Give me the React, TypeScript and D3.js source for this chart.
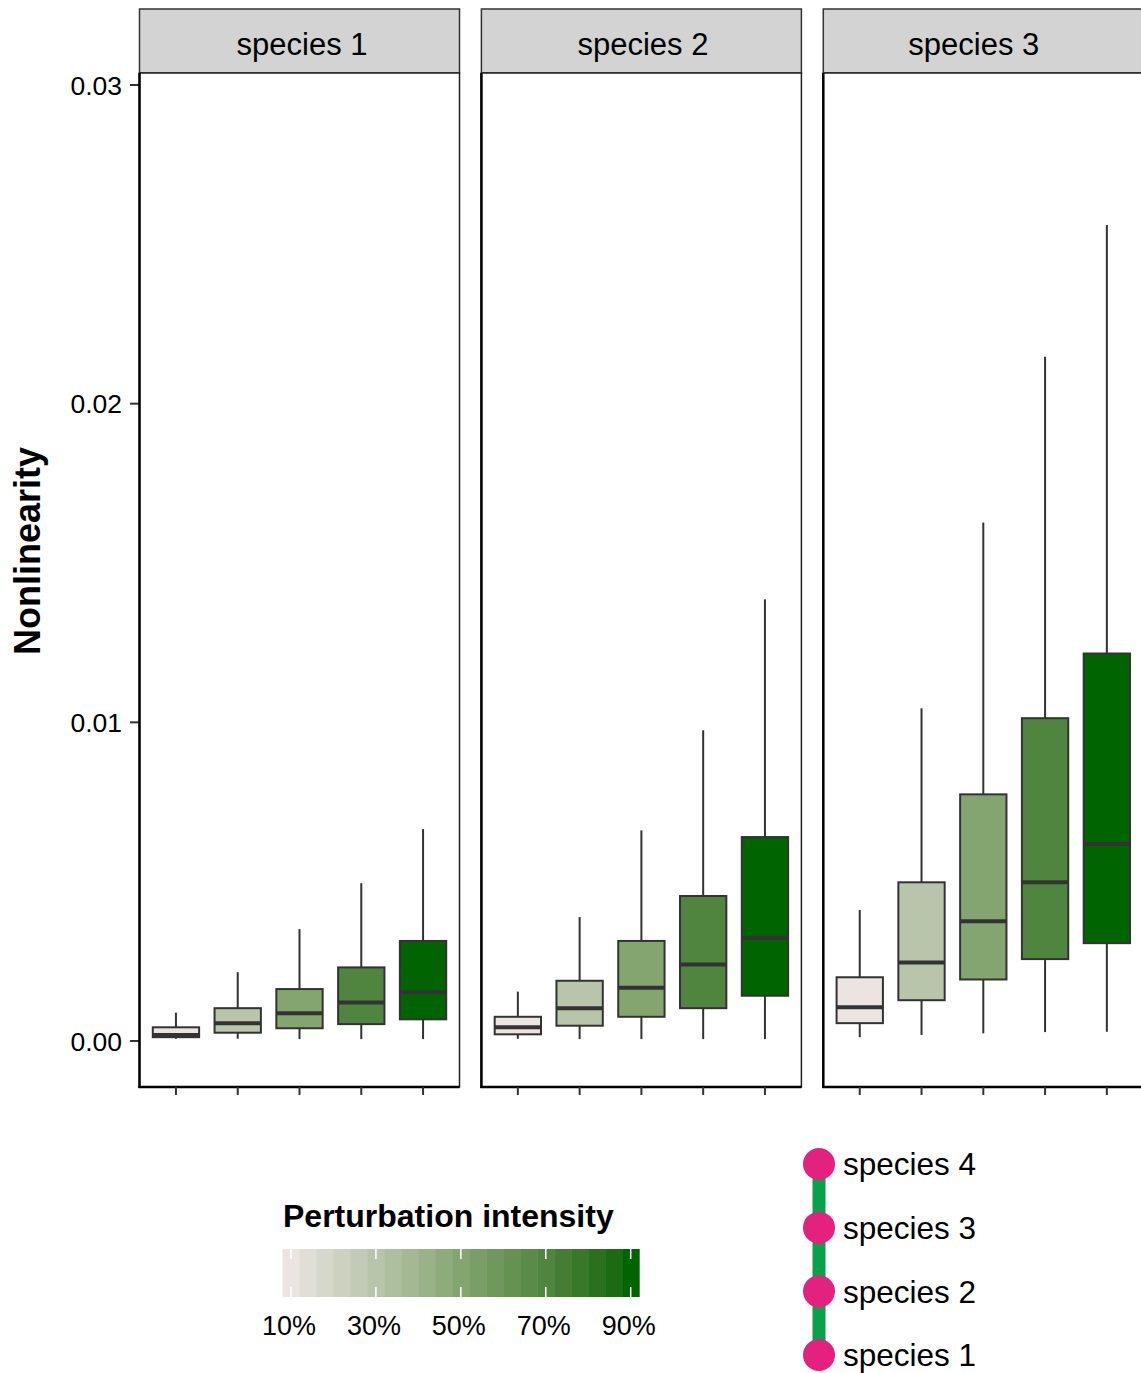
import React from "react";
import * as d3 from "d3";

const species = ["species 1", "species 2", "species 3"];
const levels = ["10%", "30%", "50%", "70%", "90%"];
const levelColors = ["#EBE4E1", "#B8C5AA", "#84A570", "#4F853F", "#006400"];

// values in units of 0.001: [min, q1, median, q3, max]
const sp1 = [
  [0.07, 0.12, 0.19, 0.43, 0.89],
  [0.07, 0.26, 0.56, 1.03, 2.16],
  [0.06, 0.4, 0.87, 1.63, 3.51],
  [0.06, 0.53, 1.21, 2.31, 4.95],
  [0.06, 0.68, 1.53, 3.14, 6.65],
];
const sp2 = [
  [0.07, 0.21, 0.43, 0.76, 1.55],
  [0.06, 0.48, 1.03, 1.89, 3.89],
  [0.06, 0.76, 1.67, 3.14, 6.61],
  [0.06, 1.03, 2.4, 4.55, 9.75],
  [0.06, 1.42, 3.23, 6.4, 13.86],
];
const sp3 = [
  [0.12, 0.56, 1.06, 2.0, 4.11],
  [0.19, 1.28, 2.46, 4.98, 10.44],
  [0.24, 1.93, 3.76, 7.74, 16.27],
  [0.28, 2.57, 4.98, 10.13, 21.47],
  [0.29, 3.07, 6.18, 12.16, 25.61],
];
const seriesData = [sp1, sp2, sp3];

const yTicks = [0, 0.01, 0.02, 0.03];
const yTickLabels = ["0.00", "0.01", "0.02", "0.03"];

const barTickPcts = [10, 30, 50, 70, 90];
const barTickLabels = ["10%", "30%", "50%", "70%", "90%"];
const barBins = d3.range(10, 90.001, 4);

const networkNodes = ["species 4", "species 3", "species 2", "species 1"];

const FONT = "'Liberation Sans', Arial, Helvetica, sans-serif";

export default function App() {
  const W = 1141;
  const H = 1373;
  const panelLeft0 = 139.5;
  const panelW = 320;
  const panelStep = 341.9;
  const stripTop = 9;
  const stripBottom = 73;
  const panelBottom = 1087;
  const stripTextShift = [2.5, 1.5, -9.5];

  const y = d3.scaleLinear().domain([0, 0.03]).range([1041, 85]);
  const x = d3.scalePoint<string>().domain(levels).range([0, panelW]).padding(0.59);
  const boxW = x.step() * 0.75;

  const cs = d3.scaleLinear<string>()
    .domain([10, 30, 50, 70, 90])
    .range(levelColors)
    .interpolate(d3.interpolateLab)
    .clamp(true);

  const barX = d3.scaleLinear().domain([10, 90]).range([291, 630.7]);
  const binW = barX(14) - barX(10);
  const barTop = 1249;
  const barBot = 1297;

  const netY = d3.scalePoint<string>().domain(networkNodes).range([1164, 1355]);

  return (
    <svg width={W} height={H} style={{ position: "absolute", left: 0, top: 0, background: "#fff" }} fontFamily={FONT}>
      <rect x={0} y={0} width={W} height={H} fill="#fff" />
      {/* y axis title */}
      <text transform={`translate(40,551) rotate(-90)`} textAnchor="middle" fontWeight="bold" fontSize={36}>Nonlinearity</text>
      {/* y ticks */}
      {yTicks.map((t, i) => (
        <g key={i}>
          <line x1={130} x2={140} y1={y(t)} y2={y(t)} stroke="#333" strokeWidth={2} />
          <text x={122} y={y(t)} dy="0.36em" textAnchor="end" fontSize={26.5}>{yTickLabels[i]}</text>
        </g>
      ))}
      {species.map((sp, p) => {
        const px = panelLeft0 + p * panelStep;
        const data = seriesData[p];
        return (
          <g key={sp} transform={`translate(${px},0)`}>
            <rect x={0} y={stripTop} width={panelW} height={stripBottom - stripTop} fill="#D3D3D3" stroke="#333" strokeWidth={1.5} />
            <text x={panelW / 2 + stripTextShift[p]} y={55} textAnchor="middle" fontSize={31}>{sp}</text>
            <rect x={0} y={stripBottom} width={panelW} height={panelBottom - stripBottom} fill="#fff" stroke="#222" strokeWidth={1.5} />
            <line x1={0} x2={0} y1={stripBottom} y2={panelBottom + 1} stroke="#000" strokeWidth={2.5} />
            <line x1={-1} x2={panelW} y1={panelBottom} y2={panelBottom} stroke="#000" strokeWidth={2.5} />
            {levels.map((lv, i) => {
              const cx = x(lv)!;
              const [mn, q1, md, q3, mx] = data[i].map((v) => v / 1000);
              return (
                <g key={lv}>
                  <line x1={cx} x2={cx} y1={panelBottom} y2={panelBottom + 8} stroke="#333" strokeWidth={2} />
                  <line x1={cx} x2={cx} y1={y(mx)} y2={y(q3)} stroke="#333" strokeWidth={2} />
                  <line x1={cx} x2={cx} y1={y(q1)} y2={y(mn)} stroke="#333" strokeWidth={2} />
                  <rect x={cx - boxW / 2} y={y(q3)} width={boxW} height={y(q1) - y(q3)} fill={levelColors[i]} stroke="#333" strokeWidth={2} />
                  <line x1={cx - boxW / 2} x2={cx + boxW / 2} y1={y(md)} y2={y(md)} stroke="#333" strokeWidth={4} />
                </g>
              );
            })}
          </g>
        );
      })}
      {/* colorbar legend */}
      <text x={283} y={1227} fontWeight="bold" fontSize={32}>Perturbation intensity</text>
      {barBins.map((b) => (
        <rect key={b} x={barX(b) - binW / 2} y={barTop} width={binW + 0.5} height={barBot - barTop} fill={cs(b)} />
      ))}
      {barTickPcts.map((t, i) => (
        <g key={t}>
          <line x1={barX(t)} x2={barX(t)} y1={barTop} y2={barTop + 10} stroke="#fff" strokeWidth={1.5} />
          <line x1={barX(t)} x2={barX(t)} y1={barBot - 10} y2={barBot} stroke="#fff" strokeWidth={1.5} />
          <text x={barX(t) - 2} y={1325} dy="0.36em" textAnchor="middle" fontSize={27}>{barTickLabels[i]}</text>
        </g>
      ))}
      {/* network legend */}
      <line x1={819} x2={819} y1={netY(networkNodes[0])!} y2={netY(networkNodes[3])!} stroke="#0BA14B" strokeWidth={13} />
      {networkNodes.map((n) => (
        <g key={n}>
          <circle cx={819} cy={netY(n)!} r={16} fill="#E3217F" />
          <text x={843} y={netY(n)!} dy="0.36em" fontSize={31.5}>{n}</text>
        </g>
      ))}
    </svg>
  );
}
